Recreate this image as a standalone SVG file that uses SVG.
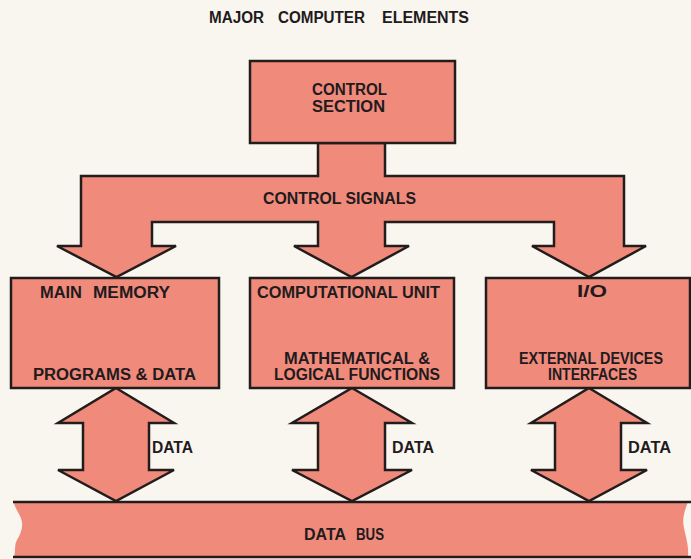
<svg xmlns="http://www.w3.org/2000/svg" width="691" height="559" viewBox="0 0 691 559">
<style>
.bg{fill:#F8F6EF}
.shape{fill:#F08B7C;stroke:#231C1C;stroke-width:2.5;stroke-linejoin:miter}
.fillonly{fill:#F08B7C;stroke:none}
.edge{stroke:#231C1C;stroke-width:2.5;fill:none}
text{font-family:"Liberation Sans","Arial",sans-serif;font-weight:bold;font-size:16px;fill:#221A1C;text-anchor:start}
</style>
<rect class="bg" x="0" y="0" width="691" height="559"/>
<g id="title">
  <text x="209" y="23" textLength="55" lengthAdjust="spacingAndGlyphs">MAJOR</text>
  <text x="278" y="23" textLength="87" lengthAdjust="spacingAndGlyphs">COMPUTER</text>
  <text x="382" y="23" textLength="87" lengthAdjust="spacingAndGlyphs">ELEMENTS</text>
</g>

<g id="connectors">
  <path id="control-signals" class="shape" d="M318,143 L318,176 L81,176 L81,246 L57,246 L116.5,277 L176,246 L152,246 L152,222 L318,222 L318,246 L294,246 L351.5,277 L409,246 L385,246 L385,222 L554,222 L554,246 L532,246 L589,277 L646,246 L624,246 L624,176 L385,176 L385,143 Z"/>
  <text x="263" y="204" textLength="153" lengthAdjust="spacingAndGlyphs">CONTROL SIGNALS</text>
  <path id="data-left" class="shape" d="M116,388 L174,423 L149,423 L149,470 L174,470 L116,501 L58,470 L83,470 L83,423 L58,423 Z"/>
  <text x="152" y="453" textLength="41" lengthAdjust="spacingAndGlyphs">DATA</text>
  <path id="data-mid" class="shape" d="M352,388 L412,423 L385,423 L385,470 L412,470 L352,501 L292,470 L318,470 L318,423 L292,423 Z"/>
  <text x="392" y="453" textLength="42" lengthAdjust="spacingAndGlyphs">DATA</text>
  <path id="data-right" class="shape" d="M589,388 L647,423 L621,423 L621,470 L647,470 L589,501 L531,470 L555,470 L555,423 L531,423 Z"/>
  <text x="628" y="453" textLength="43" lengthAdjust="spacingAndGlyphs">DATA</text>
</g>

<g id="control-section">
  <rect class="shape" x="250" y="61" width="205" height="82"/>
  <text x="312" y="95" textLength="75" lengthAdjust="spacingAndGlyphs">CONTROL</text>
  <text x="312" y="112" textLength="73" lengthAdjust="spacingAndGlyphs">SECTION</text>
</g>

<g id="main-memory">
  <rect class="shape" x="11" y="278" width="208" height="110"/>
  <text x="40" y="298" textLength="42" lengthAdjust="spacingAndGlyphs">MAIN</text>
  <text x="93" y="298" textLength="77" lengthAdjust="spacingAndGlyphs">MEMORY</text>
  <text x="33" y="380" textLength="163" lengthAdjust="spacingAndGlyphs">PROGRAMS &amp; DATA</text>
</g>

<g id="computational-unit">
  <rect class="shape" x="250" y="278" width="204" height="110"/>
  <text x="257" y="298" textLength="183" lengthAdjust="spacingAndGlyphs">COMPUTATIONAL UNIT</text>
  <text x="284" y="364" textLength="146" lengthAdjust="spacingAndGlyphs">MATHEMATICAL &amp;</text>
  <text x="274" y="380" textLength="166" lengthAdjust="spacingAndGlyphs">LOGICAL FUNCTIONS</text>
</g>

<g id="io">
  <rect class="shape" x="486" y="278" width="204" height="110"/>
  <text x="577" y="297" textLength="30" lengthAdjust="spacingAndGlyphs">I/O</text>
  <text x="519" y="364" textLength="144" lengthAdjust="spacingAndGlyphs">EXTERNAL DEVICES</text>
  <text x="548" y="380" textLength="89" lengthAdjust="spacingAndGlyphs">INTERFACES</text>
</g>

<g id="data-bus">
  <path class="fillonly" d="M14,502 L688,502 C684,512 682,520 684,528 C686,538 689,546 688,557 L14,557 C16,550 14,545 17,540 C22,532 24,524 20,516 C17,510 14,506 14,502 Z"/>
  <line class="edge" x1="13" y1="502" x2="691" y2="502"/>
  <line class="edge" x1="13" y1="557" x2="691" y2="557"/>
  <text x="304" y="540" textLength="42" lengthAdjust="spacingAndGlyphs">DATA</text>
  <text x="356" y="540" textLength="28" lengthAdjust="spacingAndGlyphs">BUS</text>
</g>
</svg>
